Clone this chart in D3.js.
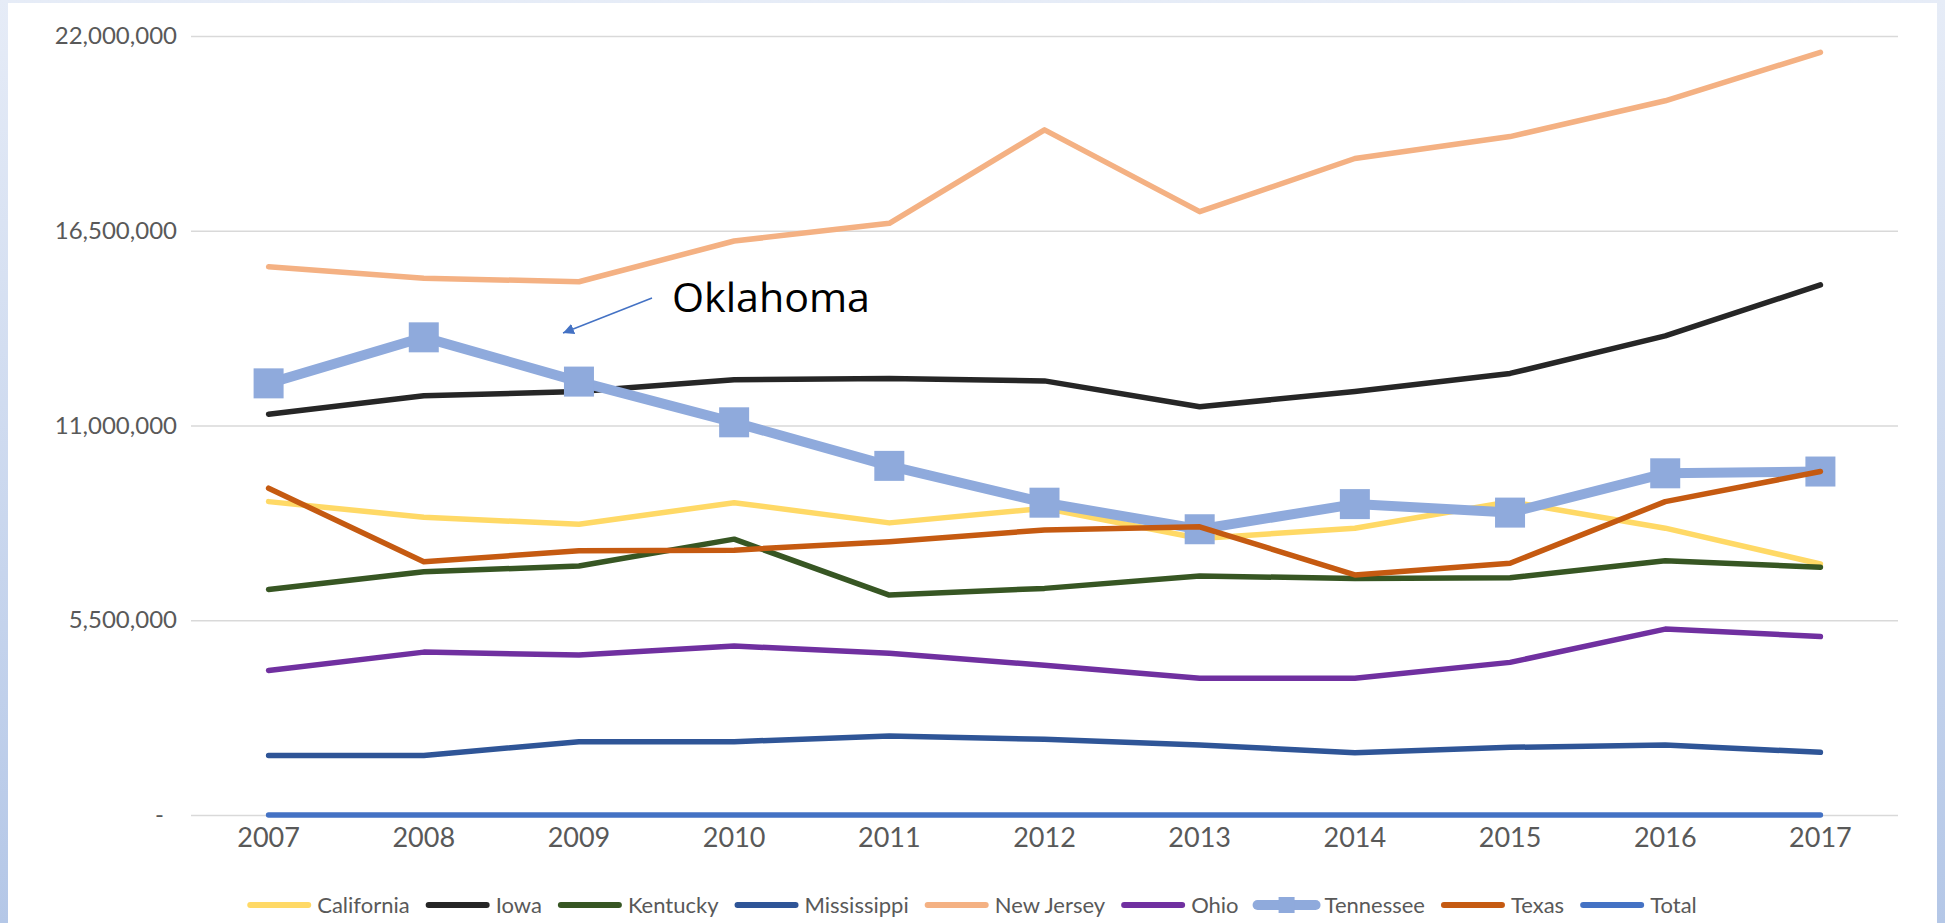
<!DOCTYPE html>
<html>
<head>
<meta charset="utf-8">
<script src="https://cdn.jsdelivr.net/npm/d3@7"></script>
<style>
  html, body { margin: 0; padding: 0; background: #fff; overflow: hidden; }
  svg { display: block; }
</style>
</head>
<body>
<svg id="chart" width="1945" height="923"></svg>
<script>
'use strict';
(function() {
    // chart data
    var years = [2007, 2008, 2009, 2010, 2011, 2012, 2013, 2014, 2015, 2016, 2017];
    var yTicks = [0, 5500000, 11000000, 16500000, 22000000];

    var california  = [8850000, 8410000, 8210000, 8820000, 8250000, 8660000, 7810000, 8100000, 8850000, 8100000, 7090000];
    var iowa        = [11320000, 11840000, 11960000, 12290000, 12330000, 12260000, 11530000, 11960000, 12470000, 13530000, 14970000];
    var kentucky    = [6370000, 6870000, 7030000, 7790000, 6210000, 6400000, 6750000, 6680000, 6700000, 7180000, 7000000];
    var mississippi = [1680000, 1680000, 2070000, 2070000, 2230000, 2140000, 1980000, 1760000, 1910000, 1980000, 1770000];
    var newJersey   = [15480000, 15160000, 15060000, 16210000, 16710000, 19350000, 17040000, 18540000, 19160000, 20170000, 21540000];
    var ohio        = [4080000, 4600000, 4520000, 4770000, 4570000, 4230000, 3860000, 3860000, 4310000, 5250000, 5040000];
    var tennessee   = [12190000, 13490000, 12240000, 11090000, 9860000, 8820000, 8070000, 8780000, 8540000, 9650000, 9700000];
    var texas       = [9230000, 7150000, 7460000, 7480000, 7720000, 8050000, 8140000, 6780000, 7110000, 8850000, 9700000];
    var total       = [0, 0, 0, 0, 0, 0, 0, 0, 0, 0, 0];

    var seriesNames  = ['California', 'Iowa', 'Kentucky', 'Mississippi', 'New Jersey', 'Ohio', 'Tennessee', 'Texas', 'Total'];
    var seriesValues = [california, iowa, kentucky, mississippi, newJersey, ohio, tennessee, texas, total];
    var seriesColors = ['#FFD966', '#262626', '#375623', '#2F5597', '#F4B183', '#7030A0', '#8FAADC', '#C55A11', '#4472C4'];

    var series = seriesNames.map(function(name, i) {
        return {
            name: name,
            color: seriesColors[i],
            marker: name === 'Tennessee',
            values: seriesValues[i].map(function(v, j) { return {year: years[j], value: v}; })
        };
    });

    var svg = d3.select('#chart');

    // backdrop
    var defs = svg.append('defs');
    var grad = defs.append('linearGradient')
        .attr('id', 'bg')
        .attr('x1', 0).attr('y1', 0).attr('x2', 0).attr('y2', 1);
    grad.append('stop').attr('offset', '0%').attr('stop-color', '#E6ECF7');
    grad.append('stop').attr('offset', '100%').attr('stop-color', '#B4C7E7');

    svg.append('rect').attr('width', 1945).attr('height', 923).attr('fill', 'url(#bg)');
    svg.append('rect').attr('x', 8).attr('y', 3).attr('width', 1929).attr('height', 930).attr('fill', '#fff');

    // scales
    var left = 191, right = 1898, top = 36, bottom = 815;

    var x = d3.scaleBand()
        .domain(years)
        .range([left, right]);

    var y = d3.scaleLinear()
        .domain([0, 22000000])
        .range([bottom, top]);

    var cx = function(yr) { return x(yr) + x.bandwidth() / 2; };

    // y axis + gridlines
    var yAxis = svg.append('g')
        .attr('transform', 'translate(' + left + ',0)')
        .call(d3.axisLeft(y)
            .tickValues(yTicks)
            .tickSize(-(right - left))
            .tickPadding(14)
            .tickFormat(function(d) { return d === 0 ? '-' : d3.format(',')(d); }));

    yAxis.select('.domain').remove();
    yAxis.selectAll('line').attr('stroke', '#D9D9D9').attr('stroke-width', 1.5);
    yAxis.selectAll('text')
        .attr('fill', '#595959')
        .style('font-family', 'Lato, sans-serif')
        .style('font-size', '24px');
    yAxis.selectAll('.tick').filter(function(d) { return d === 0; })
        .select('text').attr('x', -27);

    // x axis
    var xAxis = svg.append('g')
        .attr('transform', 'translate(0,' + bottom + ')')
        .call(d3.axisBottom(x).tickSize(0).tickPadding(13));

    xAxis.select('.domain').remove();
    xAxis.selectAll('text')
        .attr('fill', '#595959')
        .style('font-family', 'Lato, sans-serif')
        .style('font-size', '27px');

    // lines
    var line = d3.line()
        .x(function(d) { return cx(d.year); })
        .y(function(d) { return y(d.value); });

    var markerSize = 30;

    series.forEach(function(s) {
        var g = svg.append('g').attr('class', 'series');
        g.append('path')
            .datum(s.values)
            .attr('d', line)
            .attr('fill', 'none')
            .attr('stroke', s.color)
            .attr('stroke-width', s.marker ? 10 : 5.5)
            .attr('stroke-linejoin', 'round')
            .attr('stroke-linecap', 'round');

        if (s.marker) {
            g.selectAll('rect')
                .data(s.values)
                .enter().append('rect')
                .attr('x', function(d) { return cx(d.year) - markerSize / 2; })
                .attr('y', function(d) { return y(d.value) - markerSize / 2; })
                .attr('width', markerSize)
                .attr('height', markerSize)
                .attr('fill', s.color);
        }
    });

    // annotation
    defs.append('marker')
        .attr('id', 'arrow')
        .attr('viewBox', '0 0 10 10')
        .attr('refX', 10).attr('refY', 5)
        .attr('markerWidth', 11).attr('markerHeight', 11)
        .attr('markerUnits', 'userSpaceOnUse')
        .attr('orient', 'auto')
        .append('path')
        .attr('d', 'M0,0 L10,5 L0,10 Z')
        .attr('fill', '#4472C4');

    svg.append('line')
        .attr('x1', 652).attr('y1', 298)
        .attr('x2', 563).attr('y2', 333)
        .attr('stroke', '#4472C4')
        .attr('stroke-width', 1.5)
        .attr('marker-end', 'url(#arrow)');

    svg.append('text')
        .attr('x', 672).attr('y', 312)
        .attr('textLength', 198)
        .attr('lengthAdjust', 'spacingAndGlyphs')
        .style('font-family', '"Open Sans", sans-serif')
        .style('font-size', '41px')
        .attr('fill', '#000')
        .text('Oklahoma');

    // legend
    var legend = svg.append('g').attr('class', 'legend');
    var legendY = 905, swatch = 64, gapText = 6, gapItem = 16;

    var items = legend.selectAll('g')
        .data(series)
        .enter().append('g');

    items.append('line')
        .attr('x1', 3).attr('x2', swatch - 3)
        .attr('y1', 0).attr('y2', 0)
        .attr('stroke', function(d) { return d.color; })
        .attr('stroke-width', function(d) { return d.marker ? 10 : 6; })
        .attr('stroke-linecap', 'round');

    items.filter(function(d) { return d.marker; })
        .append('rect')
        .attr('x', swatch / 2 - 8).attr('y', -8)
        .attr('width', 16).attr('height', 16)
        .attr('fill', function(d) { return d.color; });

    items.append('text')
        .attr('x', swatch + gapText)
        .attr('dy', '0.35em')
        .attr('fill', '#595959')
        .style('font-family', 'Lato, sans-serif')
        .style('font-size', '22px')
        .text(function(d) { return d.name; });

    var offset = 0;
    var widths = [];
    items.each(function() {
        var w = swatch + gapText + d3.select(this).select('text').node().getComputedTextLength();
        widths.push(w);
    });
    var totalW = d3.sum(widths) + gapItem * (widths.length - 1);
    var startX = 972 - totalW / 2;
    items.attr('transform', function(d, i) {
        var tx = startX + offset;
        offset += widths[i] + gapItem;
        return 'translate(' + tx + ',' + legendY + ')';
    });
})();
</script>
</body>
</html>
